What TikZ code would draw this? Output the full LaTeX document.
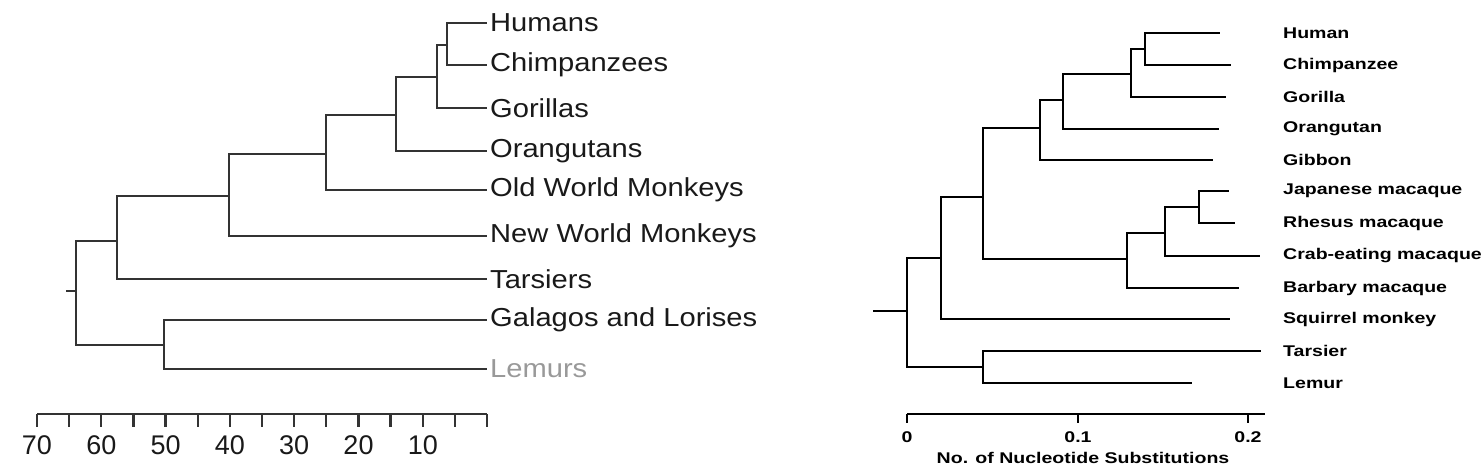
\documentclass[tikz,border=0pt]{standalone}
\usepackage{fontspec}
\setmainfont{Liberation Sans}
\newfontfamily\leftfont[FakeStretch=1.12]{Liberation Sans}
\newfontfamily\rightfont[FakeStretch=1.26, BoldFeatures={FakeStretch=1.26}]{Liberation Sans}
\usepackage{tikz}
\usetikzlibrary{positioning, calc}
\tikzset{
	branchL/.style={line width=2.2pt, draw=black!80},
	branchR/.style={line width=2.4pt, draw=black},
	tipL/.style={anchor=west, inner sep=3pt, text=black!90, font=\leftfont\fontsize{26}{30}\selectfont},
	tipR/.style={anchor=west, inner sep=0pt, text=black, font=\rightfont\bfseries\fontsize{15.5}{18}\selectfont},
	numL/.style={inner sep=0pt, text=black!90, font=\fontsize{27}{30}\selectfont},
	numR/.style={inner sep=0pt, text=black, font=\rightfont\bfseries\fontsize{15.5}{18}\selectfont}
}

\begin{document}
\begin{tikzpicture}[x=1pt, y=-1pt]
    \useasboundingbox (0,0) rectangle (1483,467);

    % left tree
    \coordinate (lstub) at (66,291);
    \coordinate (lr) at (76,291);
    \coordinate (la) at (117,241);
    \coordinate (lb) at (229,196);
    \coordinate (lc) at (326,154);
    \coordinate (ld) at (396,115);
    \coordinate (le) at (437,77);
    \coordinate (lf) at (447,45);
    \coordinate (lg) at (164,345);

    \node[tipL] (humans) at (487,23) {Humans};
    \node[tipL] (chimps) at (487,65) {Chimpanzees};
    \node[tipL] (gorillas) at (487,108) {Gorillas};
    \node[tipL] (orangs) at (487,151) {Orangutans};
    \node[tipL] (owm) at (487,190) {Old World Monkeys};
    \node[tipL] (nwm) at (487,236) {New World Monkeys};
    \node[tipL] (tarsiers) at (487,279) {Tarsiers};
    \node[tipL] (galagos) at (487,320) {Galagos and Lorises};
    \node[tipL, text=black!40] (lemurs) at (487,369) {Lemurs};

    \draw[branchL] (lstub) -- (lr);
    \draw[branchL] (lr) |- (la);
    \draw[branchL] (lr) |- (lg);
    \draw[branchL] (la) |- (lb);
    \draw[branchL] (la) |- (tarsiers.west);
    \draw[branchL] (lb) |- (lc);
    \draw[branchL] (lb) |- (nwm.west);
    \draw[branchL] (lc) |- (ld);
    \draw[branchL] (lc) |- (owm.west);
    \draw[branchL] (ld) |- (le);
    \draw[branchL] (ld) |- (orangs.west);
    \draw[branchL] (le) |- (lf);
    \draw[branchL] (le) |- (gorillas.west);
    \draw[branchL] (lf) |- (humans.west);
    \draw[branchL] (lf) |- (chimps.west);
    \draw[branchL] (lg) |- (galagos.west);
    \draw[branchL] (lg) |- (lemurs.west);

    \coordinate (lax0) at (37,414);
    \coordinate (lax1) at (487,414);
    \draw[branchL] (lax0) -- (lax1);
    \foreach \i in {0,...,14}
        \draw[branchL] (37+\i*32.14,414) -- ++(0,13);
    \foreach \v in {70,60,...,10}
        \node[numL] (ln\v) at ({37+(70-\v)*6.43},445) {\v};

    % right tree
    \coordinate (rstub) at (873,311);
    \coordinate (rr) at (907,311);
    \coordinate (rx1) at (941,258);
    \coordinate (rx2) at (983,367);
    \coordinate (rx3) at (983,197);
    \coordinate (rhom) at (1040,128);
    \coordinate (rhg) at (1063,100);
    \coordinate (rhgc) at (1131,74);
    \coordinate (rhc) at (1145,49);
    \coordinate (rmac) at (1127,259);
    \coordinate (rm1) at (1165,233);
    \coordinate (rm2) at (1199,207);

    \coordinate (tHuman) at (1220,33);
    \coordinate (tChimp) at (1231,65);
    \coordinate (tGorilla) at (1226,97);
    \coordinate (tOrang) at (1219,129);
    \coordinate (tGibbon) at (1213,160);
    \coordinate (tJapan) at (1229,191);
    \coordinate (tRhesus) at (1235,223);
    \coordinate (tCrab) at (1260,256);
    \coordinate (tBarbary) at (1239,288);
    \coordinate (tSquirrel) at (1230,319);
    \coordinate (tTarsier) at (1261,351);
    \coordinate (tLemur) at (1192,383);

    \node[tipR] (lHuman) at (1283,33) {Human};
    \node[tipR] (lChimp) at (1283,65) {Chimpanzee};
    \node[tipR] (lGorilla) at (1283,97) {Gorilla};
    \node[tipR] (lOrang) at (1283,129) {Orangutan};
    \node[tipR] (lGibbon) at (1283,160) {Gibbon};
    \node[tipR] (lJapan) at (1283,191) {Japanese macaque};
    \node[tipR] (lRhesus) at (1283,223) {Rhesus macaque};
    \node[tipR] (lCrab) at (1283,256) {Crab-eating macaque};
    \node[tipR] (lBarbary) at (1283,288) {Barbary macaque};
    \node[tipR] (lSquirrel) at (1283,319) {Squirrel monkey};
    \node[tipR] (lTarsier) at (1283,351) {Tarsier};
    \node[tipR] (lLemur) at (1283,383) {Lemur};

    \draw[branchR] (rstub) -- (rr);
    \draw[branchR] (rr) |- (rx1);
    \draw[branchR] (rr) |- (rx2);
    \draw[branchR] (rx1) |- (rx3);
    \draw[branchR] (rx1) |- (tSquirrel);
    \draw[branchR] (rx3) |- (rhom);
    \draw[branchR] (rx3) |- (rmac);
    \draw[branchR] (rhom) |- (rhg);
    \draw[branchR] (rhom) |- (tGibbon);
    \draw[branchR] (rhg) |- (rhgc);
    \draw[branchR] (rhg) |- (tOrang);
    \draw[branchR] (rhgc) |- (rhc);
    \draw[branchR] (rhgc) |- (tGorilla);
    \draw[branchR] (rhc) |- (tHuman);
    \draw[branchR] (rhc) |- (tChimp);
    \draw[branchR] (rmac) |- (rm1);
    \draw[branchR] (rmac) |- (tBarbary);
    \draw[branchR] (rm1) |- (rm2);
    \draw[branchR] (rm1) |- (tCrab);
    \draw[branchR] (rm2) |- (tJapan);
    \draw[branchR] (rm2) |- (tRhesus);
    \draw[branchR] (rx2) |- (tTarsier);
    \draw[branchR] (rx2) |- (tLemur);

    \coordinate (rax0) at (907,414);
    \coordinate (rax1) at (1265,414);
    \draw[branchR] (rax0) -- (rax1);
    \foreach \x/\t [count=\k] in {907/0, 1078/0.1, 1248/0.2} {
        \draw[branchR] (\x,414) -- ++(0,9);
        \node[numR] (rn\k) at (\x,437) {\t};
    }
    \node[numR] (rtitle) at (1083,458) {No. of Nucleotide Substitutions};
\end{tikzpicture}
\end{document}
